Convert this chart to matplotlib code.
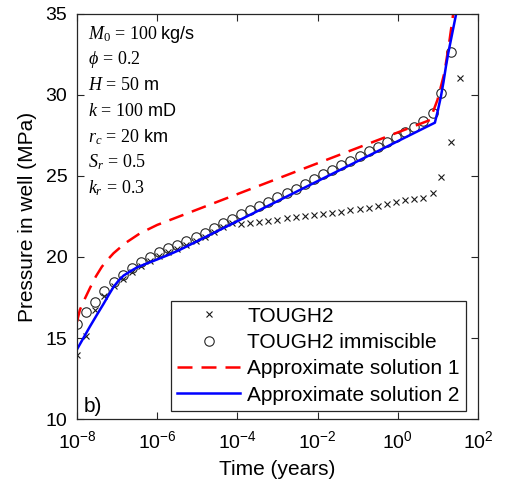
import numpy as np
import matplotlib
matplotlib.use("Agg")
import matplotlib.pyplot as plt

plt.rcParams["font.family"] = "Liberation Sans"
plt.rcParams["mathtext.fontset"] = "custom"
plt.rcParams["mathtext.rm"] = "Liberation Serif"
plt.rcParams["mathtext.it"] = "Liberation Serif:italic"
plt.rcParams["mathtext.sf"] = "Liberation Sans"

# sample times of the TOUGH2 runs (log10 of years)
t_exp = [-8.00, -7.77, -7.55, -7.32, -7.09, -6.86, -6.64, -6.41, -6.18, -5.95,
         -5.73, -5.50, -5.27, -5.04, -4.82, -4.59, -4.36, -4.14, -3.91, -3.68,
         -3.45, -3.23, -3.00, -2.77, -2.54, -2.32, -2.09, -1.86, -1.63, -1.41,
         -1.18, -0.95, -0.73, -0.50, -0.27, -0.04, 0.18, 0.41, 0.64, 0.87,
         1.09, 1.32, 1.55]

p_tough2 = [13.95, 15.15, 16.70, 17.60, 18.22, 18.65, 19.07, 19.45, 19.75, 20.04,
            20.28, 20.51, 20.75, 21.00, 21.25, 21.55, 21.83, 22.10, 22.04, 22.12,
            22.18, 22.24, 22.28, 22.39, 22.45, 22.53, 22.59, 22.67, 22.74, 22.80,
            22.90, 22.96, 23.04, 23.15, 23.29, 23.41, 23.52, 23.60, 23.66, 23.97,
            24.96, 27.08, 31.07]

p_immisc = [15.85, 16.60, 17.24, 17.90, 18.47, 18.90, 19.32, 19.70, 20.00, 20.29,
            20.53, 20.76, 21.00, 21.25, 21.50, 21.80, 22.08, 22.36, 22.63, 22.90,
            23.15, 23.42, 23.68, 23.97, 24.22, 24.50, 24.82, 25.10, 25.37, 25.65,
            25.93, 26.22, 26.52, 26.81, 27.10, 27.43, 27.73, 28.04, 28.37, 28.90,
            30.14, 32.67]

# approximate solution 1
t1_exp = [-8.00, -7.93, -7.80, -7.68, -7.53, -7.38, -7.23, -7.09, -6.80, -6.43,
          -6.00, 0.80, 0.99, 1.16, 1.28, 1.37, 1.40]
p1 = [16.00, 16.73, 17.45, 18.07, 18.80, 19.40, 19.85, 20.23, 20.85, 21.46,
      21.98, 28.45, 29.70, 31.34, 33.19, 34.80, 35.30]

# approximate solution 2
t2_exp = [-8.00, -7.84, -7.68, -7.50, -7.34, -7.20, -7.09, -6.96, -6.84, -6.68,
          -6.51, -6.26, -6.00, -5.70, -5.43, 0.925, 1.00, 1.075, 1.14, 1.20,
          1.26, 1.325, 1.39, 1.45, 1.48]
p2 = [14.30, 15.00, 15.70, 16.45, 17.10, 17.70, 18.15, 18.55, 18.85, 19.10,
      19.35, 19.60, 19.85, 20.15, 20.45, 28.29, 29.05, 29.90, 30.80, 31.75,
      32.60, 33.40, 34.20, 34.94, 35.30]

params = [r"$M_0\,=\,100\ \mathsf{kg/s}$",
          r"$\phi\,=\,0.2$",
          r"$H\,=\,50\ \mathsf{m}$",
          r"$k\,=\,100\ \mathsf{mD}$",
          r"$r_c\,=\,20\ \mathsf{km}$",
          r"$S_r\,=\,0.5$",
          r"$k_r\,=\,0.3$"]

t = 10.0 ** np.array(t_exp)

fig = plt.figure(figsize=(5.05, 4.87), dpi=100)
ax = fig.add_axes([0.1525, 0.1396, 0.7940, 0.8317])

ax.plot(t, p_tough2, "x", color="#1a1a1a", ms=4.5, mew=0.8, label="TOUGH2")
ax.plot(t[:len(p_immisc)], p_immisc, "o", mfc="none", mec="#262626", ms=6.8, mew=0.8,
        label="TOUGH2 immiscible")
ax.plot(10.0 ** np.array(t1_exp), p1, "--", color="red", lw=1.8, dashes=(6, 3.6),
        label="Approximate solution 1")
ax.plot(10.0 ** np.array(t2_exp), p2, "-", color="blue", lw=1.8,
        label="Approximate solution 2")

ax.set_xscale("log")
ax.set_xlim(1e-8, 1e2)
ax.set_ylim(10, 35)
ax.set_xticks([1e-8, 1e-6, 1e-4, 1e-2, 1e0, 1e2])
ax.minorticks_off()
ax.set_yticks([10, 15, 20, 25, 30, 35])
ax.tick_params(direction="in", top=True, right=True, length=5, width=0.8,
               labelsize=14, color="#262626")
ax.tick_params(axis="x", pad=8)
ax.tick_params(axis="y", pad=7)
for s in ax.spines.values():
    s.set_color("#262626")
    s.set_linewidth(0.9)

ax.set_xlabel("Time (years)", fontsize=15, labelpad=6)
ax.set_ylabel("Pressure in well (MPa)", fontsize=15, labelpad=6)

for i, txt in enumerate(params):
    ax.text(0.027, 0.95 - i * 0.0633, txt, transform=ax.transAxes,
            fontsize=13, va="center", ha="left")

ax.text(0.017, 0.032, "b)", transform=ax.transAxes, fontsize=15,
        va="center", ha="left")

leg = ax.legend(loc="lower right", bbox_to_anchor=(0.97, 0.02), fontsize=15,
                fancybox=False, framealpha=1, edgecolor="#262626",
                borderpad=0.3, labelspacing=0.35, handlelength=3.0,
                handletextpad=0.35, borderaxespad=0)
leg.get_frame().set_linewidth(0.9)

fig.savefig("out.png", dpi=100)
